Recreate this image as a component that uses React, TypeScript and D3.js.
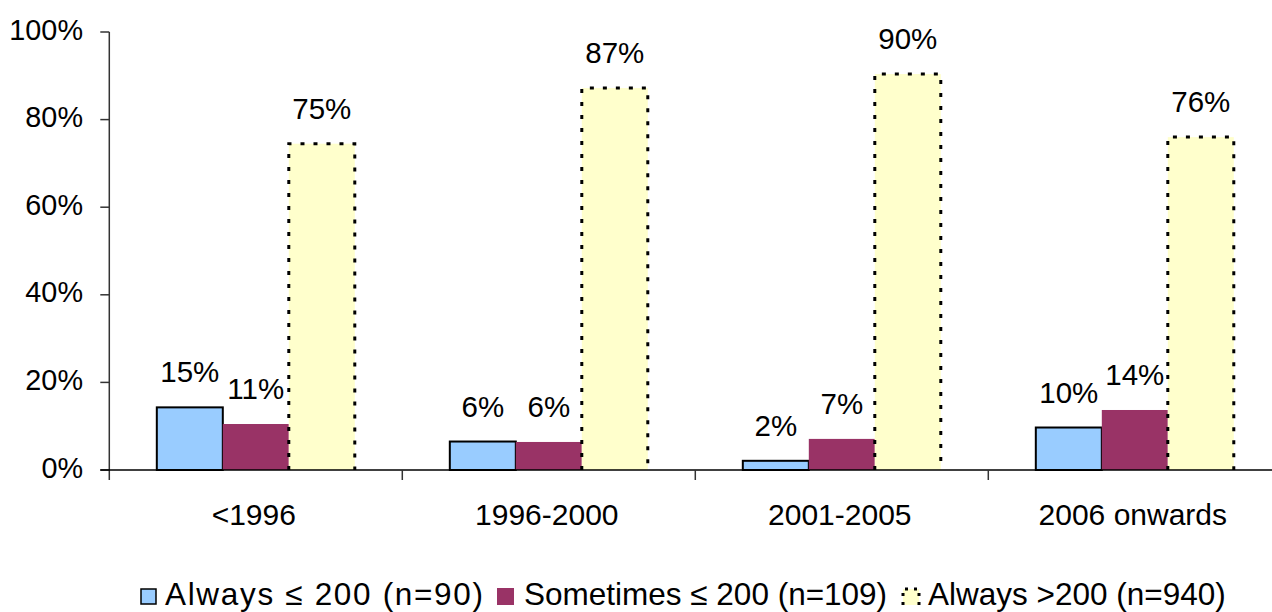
import React from "react";
import * as d3 from "d3";

const categories = ["<1996", "1996-2000", "2001-2005", "2006 onwards"];
const seriesNames = ["Always ≤ 200 (n=90)", "Sometimes ≤ 200 (n=109)", "Always >200 (n=940)"];
const alwaysLow = [14.3, 6.5, 2.1, 9.7];
const sometimesLow = [10.5, 6.4, 7.1, 13.7];
const alwaysHigh = [74.5, 87.2, 90.4, 76.0];
const alwaysLowLabels = ["15%", "6%", "2%", "10%"];
const sometimesLowLabels = ["11%", "6%", "7%", "14%"];
const alwaysHighLabels = ["75%", "87%", "90%", "76%"];
const yTicks = [0, 20, 40, 60, 80, 100];

const W = 1272;
const H = 612;
const FONT = "'Liberation Sans', Arial, sans-serif";

const colors = ["#99CCFF", "#993366", "#FFFFCC"];

export default function App() {
  const x0 = d3.scaleBand<string>().domain(categories).range([109.3, 1281.3]).padding(0);
  const x1 = d3
    .scaleBand<string>()
    .domain(["a", "b", "c"])
    .range([0, x0.bandwidth()])
    .paddingInner(0)
    .paddingOuter(0.72);
  const y = d3.scaleLinear().domain([0, 100]).range([470, 32]);

  const series = [
    { key: "a", values: alwaysLow, labels: alwaysLowLabels },
    { key: "b", values: sometimesLow, labels: sometimesLowLabels },
    { key: "c", values: alwaysHigh, labels: alwaysHighLabels },
  ];

  const axisX = x0.range()[0];
  const bw = x1.bandwidth();

  const legendItems = [
    { sx: 141, tx: 165, len: 318 },
    { sx: 497, tx: 524, len: 0 },
    { sx: 903, tx: 928, len: 0 },
  ];

  return (
    <svg
      width={W}
      height={H}
      style={{ position: "absolute", left: 0, top: 0, background: "#fff" }}
      fontFamily={FONT}
    >
      {series.map((s, si) =>
        categories.map((c, ci) => {
          const bx = (x0(c) as number) + (x1(s.key) as number);
          const by = y(s.values[ci]);
          const bh = y(0) - by;
          if (si === 0) {
            return (
              <rect
                key={`b${si}-${ci}`}
                x={bx}
                y={by}
                width={bw}
                height={bh}
                fill={colors[0]}
                stroke="#000"
                strokeWidth={2}
              />
            );
          }
          if (si === 1) {
            return (
              <rect key={`b${si}-${ci}`} x={bx} y={by} width={bw} height={bh} fill={colors[1]} />
            );
          }
          return (
            <g key={`b${si}-${ci}`}>
              <rect x={bx} y={by} width={bw} height={bh} fill={colors[2]} />
              <path
                d={`M${bx},${y(0)} L${bx},${by} L${bx + bw},${by} L${bx + bw},${y(0)}`}
                fill="none"
                stroke="#000"
                strokeWidth={3}
                strokeDasharray="4 9"
              />
            </g>
          );
        })
      )}

      {series.map((s, si) =>
        categories.map((c, ci) => {
          const cx = (x0(c) as number) + (x1(s.key) as number) + bw / 2;
          return (
            <text
              key={`l${si}-${ci}`}
              x={cx}
              y={y(s.values[ci]) - 25}
              fontSize={29.5}
              textAnchor="middle"
              fill="#000"
            >
              {s.labels[ci]}
            </text>
          );
        })
      )}

      <line x1={axisX} x2={axisX} y1={y(100)} y2={y(0) + 10} stroke="#333" strokeWidth={1.5} />
      {yTicks.map((t) => (
        <g key={`yt${t}`}>
          <line x1={axisX - 9} x2={axisX} y1={y(t)} y2={y(t)} stroke="#333" strokeWidth={1.5} />
          <text x={83} y={y(t) + 7.5} fontSize={28.8} textAnchor="end" fill="#000">
            {t}%
          </text>
        </g>
      ))}

      <line x1={axisX - 9} x2={W + 20} y1={y(0)} y2={y(0)} stroke="#000" strokeWidth={1.5} />
      {categories.slice(1).map((c) => (
        <line
          key={`xt${c}`}
          x1={x0(c) as number}
          x2={x0(c) as number}
          y1={y(0)}
          y2={y(0) + 10}
          stroke="#333"
          strokeWidth={1.5}
        />
      ))}
      {categories.map((c) => (
        <text
          key={`xl${c}`}
          x={(x0(c) as number) + x0.bandwidth() / 2 - 2}
          y={525}
          fontSize={30}
          textAnchor="middle"
          fill="#000"
        >
          {c}
        </text>
      ))}

      {seriesNames.map((name, i) => {
        const it = legendItems[i];
        return (
          <g key={`lg${i}`}>
            {i === 0 && (
              <rect x={it.sx} y={589} width={15} height={15} fill={colors[0]} stroke="#000" strokeWidth={1.5} />
            )}
            {i === 1 && <rect x={it.sx} y={588} width={17} height={17} fill={colors[1]} />}
            {i === 2 && (
              <g>
                <rect x={it.sx} y={589} width={16} height={16} fill={colors[2]} />
                <path
                  d={`M${it.sx},${605} L${it.sx},${589} L${it.sx + 16},${589} L${it.sx + 16},${605}`}
                  fill="none"
                  stroke="#000"
                  strokeWidth={3}
                  strokeDasharray="3 6"
                />
              </g>
            )}
            {it.len > 0 ? (
              <text x={it.tx} y={605} fontSize={31.5} fill="#000" textLength={it.len} lengthAdjust="spacing">
                {name}
              </text>
            ) : (
              <text x={it.tx} y={605} fontSize={31.5} fill="#000">
                {name}
              </text>
            )}
          </g>
        );
      })}
    </svg>
  );
}
